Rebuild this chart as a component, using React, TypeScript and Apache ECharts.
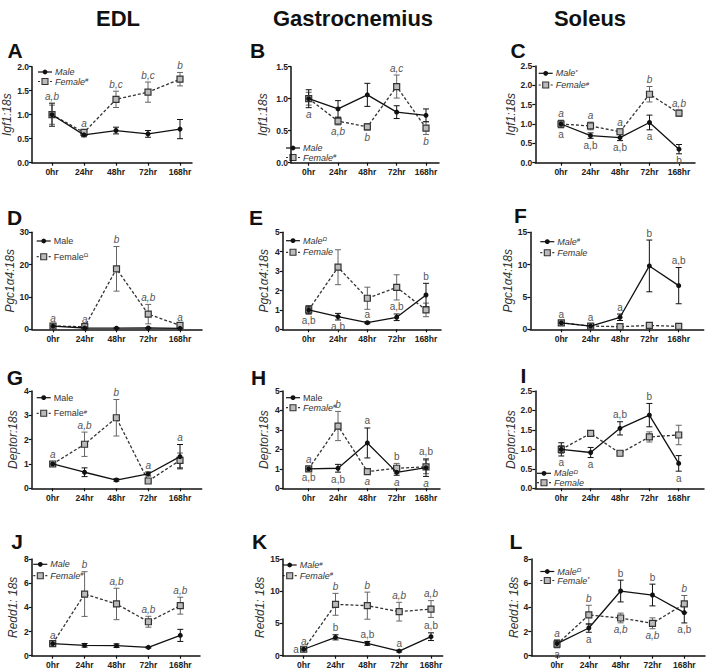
import React, { useEffect, useRef } from 'react';
import * as echarts from 'echarts';

const categories = ['0hr', '24hr', '48hr', '72hr', '168hr'];

// ---- Data (mean, SEM) ----
const maleA = [1.0, 0.58, 0.67, 0.60, 0.70];
const maleErrA = [0.24, 0.04, 0.07, 0.07, 0.20];
const femaleA = [1.0, 0.63, 1.32, 1.47, 1.74];
const femaleErrA = [0.2, 0.05, 0.17, 0.21, 0.14];

const maleB = [1.0, 0.84, 1.06, 0.79, 0.74];
const maleErrB = [0.14, 0.13, 0.18, 0.10, 0.10];
const femaleB = [1.0, 0.65, 0.56, 1.19, 0.54];
const femaleErrB = [0.1, 0.06, 0.05, 0.18, 0.1];

const maleC = [1.0, 0.70, 0.65, 1.04, 0.35];
const maleErrC = [0.08, 0.07, 0.08, 0.19, 0.12];
const femaleC = [1.0, 0.95, 0.80, 1.77, 1.28];
const femaleErrC = [0.1, 0.1, 0.07, 0.2, 0.08];

const maleD = [1.0, 0.4, 0.35, 0.4, 0.3];
const maleErrD = [0.3, 0.1, 0.1, 0.1, 0.1];
const femaleD = [1.0, 0.8, 18.7, 4.7, 1.2];
const femaleErrD = [0.3, 0.2, 6.9, 3.0, 0.3];

const maleE = [1.0, 0.65, 0.34, 0.62, 1.77];
const maleErrE = [0.2, 0.17, 0.05, 0.17, 0.6];
const femaleE = [1.0, 3.2, 1.6, 2.16, 1.0];
const femaleErrE = [0.22, 0.9, 0.57, 0.65, 0.35];

const maleF = [1.0, 0.5, 1.86, 9.8, 6.75];
const maleErrF = [0.15, 0.2, 0.5, 4.0, 2.8];
const femaleF = [1.0, 0.5, 0.4, 0.6, 0.45];
const femaleErrF = [0.1, 0.1, 0.1, 0.15, 0.1];

const maleG = [1.0, 0.66, 0.34, 0.59, 1.3];
const maleErrG = [0.1, 0.18, 0.05, 0.08, 0.5];
const femaleG = [1.0, 1.81, 2.9, 0.3, 1.15];
const femaleErrG = [0.1, 0.5, 0.75, 0.05, 0.3];

const maleH = [1.0, 1.03, 2.33, 0.82, 1.06];
const maleErrH = [0.1, 0.2, 0.77, 0.15, 0.45];
const femaleH = [1.0, 3.2, 0.86, 1.03, 1.1];
const femaleErrH = [0.1, 0.75, 0.15, 0.25, 0.35];

const maleI = [1.0, 0.92, 1.54, 1.88, 0.64];
const maleErrI = [0.17, 0.13, 0.17, 0.3, 0.2];
const femaleI = [1.0, 1.41, 0.9, 1.32, 1.37];
const femaleErrI = [0.1, 0.07, 0.06, 0.13, 0.25];

const maleJ = [1.0, 0.86, 0.83, 0.69, 1.68];
const maleErrJ = [0.1, 0.15, 0.15, 0.05, 0.5];
const femaleJ = [1.0, 5.1, 4.28, 2.81, 4.14];
const femaleErrJ = [0.1, 1.85, 1.3, 0.45, 0.7];

const maleK = [1.0, 2.85, 1.91, 0.72, 2.95];
const maleErrK = [0.1, 0.4, 0.3, 0.15, 0.6];
const femaleK = [1.0, 7.97, 7.76, 6.83, 7.24];
const femaleErrK = [0.1, 1.7, 2.1, 1.45, 1.3];

const maleL = [1.0, 2.29, 5.35, 5.02, 3.56];
const maleErrL = [0.3, 0.35, 0.9, 0.9, 0.85];
const femaleL = [0.95, 3.37, 3.12, 2.68, 4.28];
const femaleErrL = [0.3, 0.8, 0.4, 0.45, 0.7];

// Significance letters: [timepoint index, text, italic(1)/upright(0), 'u' above | 'd' below | 'l' left, anchor series]
type Letter = [number, string, number, string, string];
const lettersA: Letter[] = [[0, 'a,b', 1, 'u', 'M'], [1, 'a', 1, 'u', 'F'], [2, 'b,c', 1, 'u', 'F'], [3, 'b,c', 1, 'u', 'F'], [4, 'b', 1, 'u', 'F']];
const lettersB: Letter[] = [[0, 'a', 1, 'd', 'M'], [1, 'a,b', 1, 'd', 'F'], [2, 'b', 1, 'd', 'F'], [3, 'a,c', 1, 'u', 'F'], [4, 'b', 1, 'd', 'F']];
const lettersC: Letter[] = [[0, 'a', 1, 'u', 'F'], [1, 'a', 1, 'u', 'F'], [2, 'a', 1, 'u', 'F'], [3, 'b', 1, 'u', 'F'], [4, 'a,b', 1, 'u', 'F'],
  [0, 'a', 0, 'd', 'M'], [1, 'a,b', 0, 'd', 'M'], [2, 'a,b', 0, 'd', 'M'], [3, 'a', 0, 'd', 'M'], [4, 'b', 0, 'd', 'M']];
const lettersD: Letter[] = [[0, 'a', 1, 'u', 'F'], [1, 'a', 1, 'u', 'F'], [2, 'b', 1, 'u', 'F'], [3, 'a,b', 1, 'u', 'F'], [4, 'a', 1, 'u', 'F']];
const lettersE: Letter[] = [[0, 'a,b', 0, 'd', 'M'], [1, 'a,b', 0, 'd', 'M'], [2, 'a', 0, 'u', 'M'], [3, 'a,b', 0, 'u', 'M'], [4, 'b', 0, 'u', 'M']];
const lettersF: Letter[] = [[0, 'a', 0, 'u', 'M'], [1, 'a', 0, 'u', 'M'], [2, 'a', 0, 'u', 'M'], [3, 'b', 0, 'u', 'M'], [4, 'a,b', 0, 'u', 'M']];
const lettersG: Letter[] = [[0, 'a', 1, 'u', 'F'], [1, 'a,b', 1, 'u', 'F'], [2, 'b', 1, 'u', 'F'], [3, 'a', 1, 'u', 'M'], [4, 'a', 1, 'u', 'M']];
const lettersH: Letter[] = [[0, 'a', 1, 'u', 'F'], [1, 'b', 1, 'u', 'F'], [2, 'a', 1, 'd', 'F'], [3, 'a', 1, 'd', 'M'], [4, 'a', 1, 'd', 'M'],
  [0, 'a,b', 0, 'd', 'M'], [1, 'a,b', 0, 'd', 'M'], [2, 'a', 0, 'u', 'M'], [3, 'b', 0, 'u', 'F'], [4, 'a,b', 0, 'u', 'M']];
const lettersI: Letter[] = [[0, 'a', 0, 'd', 'M'], [1, 'a', 0, 'd', 'M'], [2, 'a,b', 0, 'u', 'M'], [3, 'b', 0, 'u', 'M'], [4, 'a', 0, 'd', 'M']];
const lettersJ: Letter[] = [[0, 'a', 1, 'u', 'F'], [1, 'b', 1, 'u', 'F'], [2, 'a,b', 1, 'u', 'F'], [3, 'a,b', 1, 'u', 'F'], [4, 'a,b', 1, 'u', 'F']];
const lettersK: Letter[] = [[0, 'a', 1, 'u', 'F'], [1, 'b', 1, 'u', 'F'], [2, 'b', 1, 'u', 'F'], [3, 'a,b', 1, 'u', 'F'], [4, 'a,b', 1, 'u', 'F'],
  [0, 'a', 0, 'l', 'M'], [1, 'b', 0, 'u', 'M'], [2, 'a,b', 0, 'u', 'M'], [3, 'a', 0, 'u', 'M'], [4, 'a,b', 0, 'u', 'M']];
const lettersL: Letter[] = [[0, 'a', 1, 'u', 'F'], [1, 'b', 1, 'u', 'F'], [2, 'a,b', 1, 'd', 'F'], [3, 'a,b', 1, 'd', 'F'], [4, 'b', 1, 'u', 'F'],
  [0, 'a', 0, 'd', 'M'], [1, 'a', 0, 'd', 'M'], [2, 'b', 0, 'u', 'M'], [3, 'b', 0, 'u', 'M'], [4, 'a,b', 0, 'd', 'M']];

const columnTitles = ['EDL', 'Gastrocnemius', 'Soleus'];
const panelIds = ['A', 'B', 'C', 'D', 'E', 'F', 'G', 'H', 'I', 'J', 'K', 'L'];
const yNames = ['Igf1:18s', 'Igf1:18s', 'Igf1:18s', 'Pgc1α4:18s', 'Pgc1α4:18s', 'Pgc1α4:18s',
  'Deptor:18s', 'Deptor:18s', 'Deptor:18s', 'Redd1: 18s', 'Redd1: 18s', 'Redd1: 18s'];
const yMaxes = [2, 1.5, 2.5, 30, 5, 15, 4, 5, 2.5, 8, 15, 8];
const yIntervals = [0.5, 0.5, 0.5, 10, 1, 5, 1, 1, 0.5, 2, 5, 2];
const maleSup = ['', '', '*', '', 'Ω', '#', '', '', 'Ω', '', '#', 'Ω'];
const femaleSup = ['#', '#', '#', 'Ω', '', '', '#', '#', '', '#', '#', '*'];

const males = [maleA, maleB, maleC, maleD, maleE, maleF, maleG, maleH, maleI, maleJ, maleK, maleL];
const maleErrs = [maleErrA, maleErrB, maleErrC, maleErrD, maleErrE, maleErrF, maleErrG, maleErrH, maleErrI, maleErrJ, maleErrK, maleErrL];
const females = [femaleA, femaleB, femaleC, femaleD, femaleE, femaleF, femaleG, femaleH, femaleI, femaleJ, femaleK, femaleL];
const femaleErrs = [femaleErrA, femaleErrB, femaleErrC, femaleErrD, femaleErrE, femaleErrF, femaleErrG, femaleErrH, femaleErrI, femaleErrJ, femaleErrK, femaleErrL];
const letters = [lettersA, lettersB, lettersC, lettersD, lettersE, lettersF, lettersG, lettersH, lettersI, lettersJ, lettersK, lettersL];

// ---- Layout (pixels) ----
// x0 axis start, p0 first category, p4 last category, x1 axis end, top, bottom, y-name center x,
// tag center x, tag center y, legend x, legend male y, legend female y, legend male italic, legend female italic
const layout = [
  [32, 52, 180, 192, 66.7, 162.7, 10, 15, 50, 38, 72, 81.5, 1, 1],
  [291, 308.7, 426, 439, 66.7, 162.7, 263, 257.5, 50, 286, 148, 157.5, 1, 1],
  [535.3, 561, 679, 695, 66, 162.7, 512, 518, 50, 538.7, 73.3, 85, 1, 1],
  [32, 53, 180, 202, 232.3, 329.3, 12, 14.5, 217.5, 36.7, 241, 256.7, 0, 0],
  [282.7, 308.7, 426, 441, 232.3, 329.3, 264, 256, 217.5, 286, 240.7, 252.3, 1, 1],
  [530.3, 561.3, 678.7, 703.7, 232.3, 329.3, 514, 520.5, 215.5, 540.3, 241.7, 252.7, 1, 1],
  [31.7, 52.7, 180, 201.7, 391, 488.3, 13, 15, 377.5, 36.7, 397.7, 413.3, 0, 0],
  [282.7, 308.7, 426, 440, 391, 488.3, 264, 258.5, 377.5, 286, 397.7, 407.7, 0, 1],
  [535.3, 561.3, 678.7, 704, 391, 488.3, 514, 523.5, 375, 537, 473.3, 482.7, 1, 1],
  [31.7, 52.7, 180.3, 200, 559, 655.7, 13, 17, 541.5, 33.3, 564.3, 575.7, 1, 1],
  [282.7, 303.7, 431, 442.7, 559, 655.7, 261, 259.5, 541.5, 282.7, 565, 575.7, 1, 1],
  [531.3, 557, 684.3, 705, 559, 655.7, 514, 516, 541.5, 540.3, 571.5, 580.5, 1, 1],
];
const columnCenters = [118, 353, 590];

const FONT = 'Liberation Sans, Arial, Helvetica, sans-serif';
const TIMEPOINTS = [0, 1, 2, 3, 4];

function errorBarRender(color: string) {
  return (params: any, api: any) => {
    const x = api.value(0);
    const m = api.value(1);
    const e = api.value(2);
    const hi = api.coord([x, m + e]);
    const lo = api.coord([x, Math.max(m - e, 0)]);
    const w = 3;
    const style = { stroke: color, lineWidth: 1 };
    return {
      type: 'group',
      children: [
        { type: 'line', shape: { x1: hi[0], y1: hi[1], x2: lo[0], y2: lo[1] }, style },
        { type: 'line', shape: { x1: hi[0] - w, y1: hi[1], x2: hi[0] + w, y2: hi[1] }, style },
        { type: 'line', shape: { x1: lo[0] - w, y1: lo[1], x2: lo[0] + w, y2: lo[1] }, style },
      ],
    };
  };
}

function buildOption() {
  const grid: any[] = [];
  const xAxis: any[] = [];
  const yAxis: any[] = [];
  const series: any[] = [];
  const graphic: any[] = [];

  columnTitles.forEach((t, c) => {
    graphic.push({
      type: 'text', x: columnCenters[c], y: 18,
      style: { text: t, fontFamily: FONT, fontSize: 22, fontWeight: 'bold', fill: '#111', align: 'center', verticalAlign: 'middle' },
    });
  });

  panelIds.forEach((id, p) => {
    const [x0, p0, p4, x1, top, bottom, nameX, tagX, tagY, lx, lyM, lyF, mIt, fIt] = layout[p];
    const u = (p4 - p0) / 4;
    const xmin = -(p0 - x0) / u;
    const xmax = 4 + (x1 - p4) / u;
    grid.push({ left: x0, top, width: x1 - x0, height: bottom - top, containLabel: false });
    const axisLineStyle = { color: '#111', width: 1.5 };
    xAxis.push({
      gridIndex: p, type: 'value', min: xmin, max: xmax,
      axisLine: { show: true, onZero: false, lineStyle: axisLineStyle },
      axisTick: { show: true, customValues: TIMEPOINTS, length: 3, lineStyle: { color: '#111', width: 1.2 } },
      axisLabel: {
        customValues: TIMEPOINTS, formatter: (v: number) => categories[Math.round(v)] ?? '',
        fontFamily: FONT, fontWeight: 'bold', fontSize: 8.5, color: '#222', margin: 5,
      },
      splitLine: { show: false },
    });
    const dec = yIntervals[p] < 1 ? 1 : 0;
    yAxis.push({
      gridIndex: p, type: 'value', min: 0, max: yMaxes[p], interval: yIntervals[p],
      axisLine: { show: true, onZero: false, lineStyle: axisLineStyle },
      axisTick: { show: true, length: 3, lineStyle: { color: '#111', width: 1.2 } },
      axisLabel: { formatter: (v: number) => v.toFixed(dec), fontFamily: FONT, fontWeight: 'bold', fontSize: 8.5, color: '#222', margin: 3 },
      splitLine: { show: false },
      name: yNames[p], nameLocation: 'middle', nameGap: x0 - nameX - 6,
      nameTextStyle: { fontFamily: FONT, fontStyle: 'italic', fontSize: 12, color: '#333' },
    });

    const male = males[p], mErr = maleErrs[p], fem = females[p], fErr = femaleErrs[p];
    series.push({
      type: 'custom', xAxisIndex: p, yAxisIndex: p, z: 2, silent: true,
      data: fem.map((v, i) => [i, v, fErr[i]]), encode: { x: 0, y: 1 },
      renderItem: errorBarRender('#666'),
    });
    series.push({
      type: 'custom', xAxisIndex: p, yAxisIndex: p, z: 2, silent: true,
      data: male.map((v, i) => [i, v, mErr[i]]), encode: { x: 0, y: 1 },
      renderItem: errorBarRender('#111'),
    });
    series.push({
      type: 'line', xAxisIndex: p, yAxisIndex: p, z: 3, silent: true,
      data: fem.map((v, i) => [i, v]),
      symbol: 'rect', symbolSize: 6,
      lineStyle: { color: '#333', width: 1.3, type: [3, 2] },
      itemStyle: { color: '#bbb', borderColor: '#333', borderWidth: 1.2 },
    });
    series.push({
      type: 'line', xAxisIndex: p, yAxisIndex: p, z: 4, silent: true,
      data: male.map((v, i) => [i, v]),
      symbol: 'circle', symbolSize: 5,
      lineStyle: { color: '#111', width: 1.3 },
      itemStyle: { color: '#111' },
    });
    const lets = letters[p];
    series.push({
      type: 'custom', xAxisIndex: p, yAxisIndex: p, z: 5, silent: true,
      data: lets.map((l) => {
        const arr = l[4] === 'M' ? male : fem;
        const err = l[4] === 'M' ? mErr : fErr;
        const v = l[3] === 'u' ? arr[l[0]] + err[l[0]] : l[3] === 'd' ? Math.max(arr[l[0]] - err[l[0]], 0) : arr[l[0]];
        return [l[0], v];
      }),
      encode: { x: 0, y: 1 },
      renderItem: (params: any, api: any) => {
        const L = lets[params.dataIndex];
        const pt = api.coord([api.value(0), api.value(1)]);
        let x = pt[0], y = pt[1];
        let align = 'center', va = 'bottom';
        if (L[3] === 'u') { y -= 2; va = 'bottom'; }
        else if (L[3] === 'd') { y += 2; va = 'top'; }
        else { x -= 5; align = 'right'; va = 'middle'; }
        return {
          type: 'text', x, y,
          style: { text: L[1], fontFamily: FONT, fontSize: 10, fontStyle: L[2] ? 'italic' : 'normal', fill: '#555', align, verticalAlign: va },
        };
      },
    });

    // panel tag
    graphic.push({
      type: 'text', x: tagX, y: tagY,
      style: { text: id, fontFamily: FONT, fontSize: 21, lineHeight: 16, fontWeight: 'bold', fill: '#111', align: 'center', verticalAlign: 'middle' },
    });
    // legend
    const mkText = (name: string, sup: string, italic: number) => ({
      text: sup ? `{n|${name}}{s|${sup}}` : `{n|${name}}`,
      rich: {
        n: { fontFamily: FONT, fontSize: 9, fontStyle: italic ? 'italic' : 'normal', fill: '#333', lineHeight: 9 },
        s: { fontFamily: FONT, fontSize: 6, fontStyle: italic ? 'italic' : 'normal', fill: '#333', lineHeight: 9, verticalAlign: 'top' },
      },
      verticalAlign: 'middle', align: 'left',
    });
    graphic.push({
      type: 'group', silent: true,
      children: [
        { type: 'line', shape: { x1: lx, y1: lyM, x2: lx + 14, y2: lyM }, style: { stroke: '#111', lineWidth: 1.2 } },
        { type: 'circle', shape: { cx: lx + 7, cy: lyM, r: 2.4 }, style: { fill: '#111' } },
        { type: 'line', shape: { x1: lx, y1: lyF, x2: lx + 14, y2: lyF }, style: { stroke: '#333', lineWidth: 1.2, lineDash: [2, 2] } },
        { type: 'rect', shape: { x: lx + 4, y: lyF - 3, width: 6, height: 6 }, style: { fill: '#bbb', stroke: '#333', lineWidth: 1.1 } },
        { type: 'text', x: lx + 17, y: lyM, style: mkText('Male', maleSup[p], mIt) },
        { type: 'text', x: lx + 17, y: lyF, style: mkText('Female', femaleSup[p], fIt) },
      ],
    });
  });

  return { animation: false, backgroundColor: '#fff', grid, xAxis, yAxis, series, graphic };
}

export default function App() {
  const ref = useRef<HTMLDivElement>(null);
  useEffect(() => {
    if (!ref.current) return;
    const chart = echarts.init(ref.current, undefined, { renderer: 'svg' });
    chart.setOption(buildOption() as any);
    return () => chart.dispose();
  }, []);
  return <div ref={ref} style={{ width: 709, height: 671, position: 'absolute', left: 0, top: 0 }} />;
}
